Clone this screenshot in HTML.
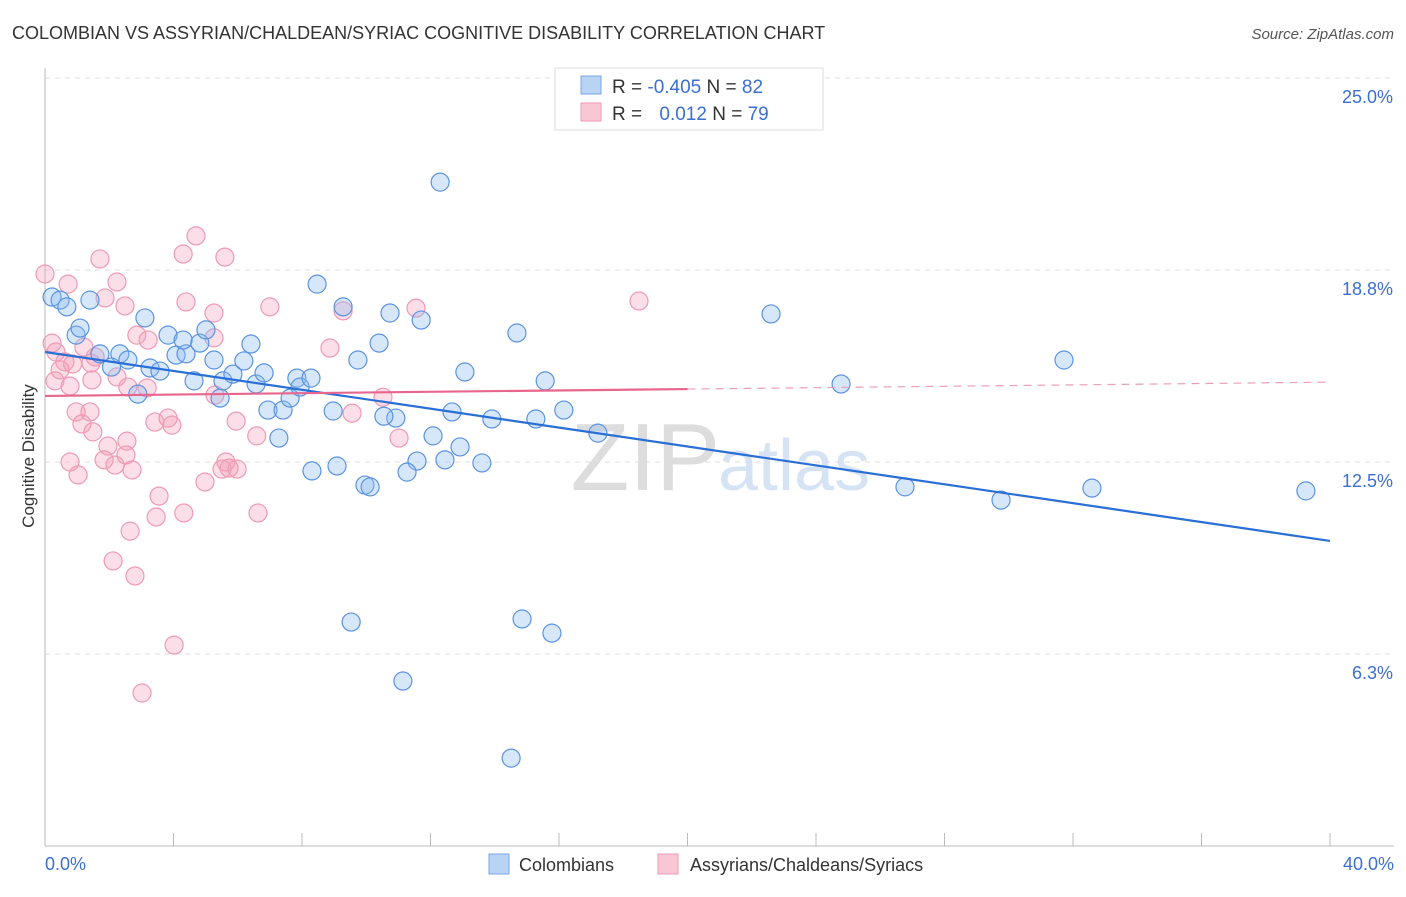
<!DOCTYPE html>
<html><head><meta charset="utf-8"><style>
body{margin:0;background:#fff;font-family:"Liberation Sans",sans-serif}
svg text{font-family:"Liberation Sans",sans-serif}
</style></head><body>
<svg id="c" width="1406" height="892" xmlns="http://www.w3.org/2000/svg">
<text x="12" y="39" font-size="18" fill="#333">COLOMBIAN VS ASSYRIAN/CHALDEAN/SYRIAC COGNITIVE DISABILITY CORRELATION CHART</text>
<text x="1394" y="39" font-size="15" fill="#555" font-style="italic" text-anchor="end">Source: ZipAtlas.com</text>
<text x="720" y="490" font-size="96" fill="#ddd" text-anchor="end" font-family="Liberation Serif">ZIP</text>
<text x="718" y="490" font-size="72" fill="#d5e3f5">atlas</text>
<g id="grid"></g><g id="pts"></g><g id="lines"></g>
<text transform="translate(34,456) rotate(-90)" font-size="17" fill="#333" text-anchor="middle">Cognitive Disability</text>
<text x="45" y="870" font-size="18" fill="#3b6fd1">0.0%</text>
<text x="1394" y="870" font-size="18" fill="#3b6fd1" text-anchor="end">40.0%</text>
<g>
<rect x="555" y="68" width="268" height="62" fill="#fff" stroke="#ddd"/>
<rect x="581" y="76" width="20" height="18" fill="#b8d3f4" stroke="#7aa7e6"/>
<rect x="581" y="103" width="20" height="18" fill="#f9c6d5" stroke="#ef9ab4"/>
<text x="612" y="93" font-size="19" fill="#333">R = <tspan fill="#3b6fd1">-0.405</tspan>   N = <tspan fill="#3b6fd1">82</tspan></text>
<text x="612" y="120" font-size="19" fill="#333">R = <tspan fill="#3b6fd1" dx="12">0.012</tspan>   N = <tspan fill="#3b6fd1">79</tspan></text>
</g>
<g>
<rect x="489" y="854" width="20" height="20" fill="#b8d3f4" stroke="#7aa7e6"/>
<text x="519" y="871" font-size="18" fill="#333">Colombians</text>
<rect x="658" y="854" width="20" height="20" fill="#f9c6d5" stroke="#ef9ab4"/>
<text x="690" y="871" font-size="18" fill="#333">Assyrians/Chaldeans/Syriacs</text>
</g>
</svg>
<script>
const yTicks=[6.25,12.5,18.75,25];
const yTickLabels=["6.3%","12.5%","18.8%","25.0%"];
const blueX=[12.30,8.47,9.28,10.74,11.71,14.69,22.60,31.72,24.78,15.57,13.07,10.40,9.74,16.15,15.28,13.91,12.67,10.92,10.55,8.97,17.21,12.08,12.92,12.45,13.60,11.58,11.27,9.09,8.31,9.96,10.12,26.77,29.76,32.59,39.25,9.53,14.85,15.78,11.14,14.51,0.22,0.47,0.68,1.40,3.11,0.97,1.09,1.71,2.33,2.58,2.07,2.89,3.27,3.58,3.83,4.08,4.39,4.30,4.82,5.01,5.26,4.64,5.45,5.54,5.85,6.19,6.41,6.57,6.82,6.94,7.41,7.28,7.63,7.84,7.94,8.28];
const blueY=[21.61,18.29,17.55,17.35,17.12,16.70,17.32,15.82,15.04,15.14,15.43,16.37,15.82,14.19,13.90,13.90,14.13,13.93,13.99,14.16,13.44,13.35,12.99,12.57,12.47,12.53,12.17,12.37,12.21,11.75,11.69,11.69,11.26,11.65,11.56,7.29,7.39,6.93,5.37,2.86,17.87,17.77,17.55,17.77,17.19,16.63,16.86,16.02,16.02,15.82,15.59,14.71,15.56,15.46,16.63,15.98,16.02,16.47,16.37,16.80,15.82,15.14,14.58,15.14,15.36,15.79,16.34,15.04,15.40,14.19,14.19,13.28,14.58,15.23,14.94,15.23];
const pinkX=[4.70,5.60,4.30,1.71,2.24,0.0,0.72,1.87,2.49,4.39,5.26,7.00,9.28,11.55,18.49,8.87,2.86,3.21,5.26,0.22,0.34,1.21,1.56,0.62,0.86,2.24,1.46,0.31,0.78,2.58,3.18,5.29,10.52,9.56,0.97,1.40,1.15,1.49,3.42,3.83,3.95,5.95,6.59,11.02,2.55,1.96,0.78,1.03,1.84,2.18,2.71,2.52,5.63,5.51,5.73,5.98,4.98,3.55,4.32,3.46,2.65,6.63,2.12,2.80,4.02,3.02,1.43,0.47];
const pinkY=[19.86,19.17,19.27,19.11,18.36,18.62,18.29,17.84,17.58,17.71,17.35,17.55,17.42,17.51,17.74,16.21,16.63,16.47,16.54,16.37,16.08,16.24,15.92,15.76,15.69,15.27,15.17,15.14,14.97,14.94,14.91,14.68,14.61,14.09,14.13,14.13,13.74,13.48,13.80,13.93,13.70,13.83,13.35,13.28,13.18,13.02,12.50,12.08,12.57,12.40,12.24,12.73,12.50,12.27,12.30,12.27,11.85,11.39,10.84,10.71,10.25,10.84,9.28,8.79,6.54,4.98,15.72,15.50];
const blueTrend=[16.08,9.93];
const pinkTrend=[14.65,15.10];
const X=v=>45+v*32.125, Y=v=>846-v*30.72;
const NS="http://www.w3.org/2000/svg";
function mk(t,a,p){const e=document.createElementNS(NS,t);for(const k in a)e.setAttribute(k,a[k]);p.appendChild(e);return e;}
const g=document.getElementById('grid');
yTicks.forEach((t,i)=>{
 const l=mk('line',{x1:45,x2:1394,y1:Y(t),y2:Y(t),stroke:'#ddd','stroke-dasharray':'5,5'},g);
 
 
 const tx=mk('text',{x:1393,y:Y(t)+25,'font-size':18,fill:'#3b6fd1','text-anchor':'end'},g);
 tx.textContent=yTickLabels[i];
 
 
});
mk('line',{x1:45,x2:45,y1:68,y2:846,stroke:'#bbb'},g);
mk('line',{x1:45,x2:1394,y1:846,y2:846,stroke:'#bbb'},g);
for(let i=1;i<=10;i++){const tk=mk('line',{x1:X(i*4),x2:X(i*4),y1:833,y2:846,stroke:'#bbb'},g);
 
 }
const P=document.getElementById('pts');
pinkX.forEach((x,i)=>{const c=mk('circle',{cx:X(x),cy:Y(pinkY[i]),r:9,fill:'rgba(244,160,186,0.35)',stroke:'#ef9ab4','stroke-width':1.2},P);
 
 });
blueX.forEach((x,i)=>{const c=mk('circle',{cx:X(x),cy:Y(blueY[i]),r:9,fill:'rgba(140,185,240,0.35)',stroke:'#5b93e0','stroke-width':1.2},P);
 
 });
const L=document.getElementById('lines');
const bl=mk('line',{x1:X(0),y1:Y(blueTrend[0]),x2:X(40),y2:Y(blueTrend[1]),stroke:'#2a6fd6','stroke-width':2.2},L);


const pm=pinkTrend[0]+(pinkTrend[1]-pinkTrend[0])*0.5;
const pl=mk('line',{x1:X(0),y1:Y(pinkTrend[0]),x2:X(20),y2:Y(pm),stroke:'#e8668e','stroke-width':2.2},L);


const pd=mk('line',{x1:X(20),y1:Y(pm),x2:X(40),y2:Y(pinkTrend[1]),stroke:'#e8a0b6','stroke-width':1.2,'stroke-dasharray':'8,6'},L);


</script>
</body></html>
